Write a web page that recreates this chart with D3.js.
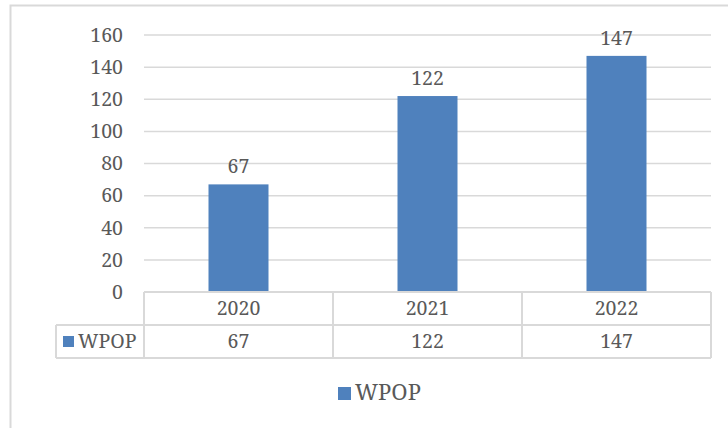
<!DOCTYPE html>
<html>
<head>
<meta charset="utf-8">
<script src="https://cdn.jsdelivr.net/npm/d3@7"></script>
<style>
	body { margin: 0; background: #fff; }
</style>
</head>
<body>
<svg id="chart" width="728" height="428"></svg>
<script>
'use strict';

var BAR_COLOR = "#4f81bd";
var LINE_COLOR = "#d9d9d9";
var TEXT_COLOR = "#595959";
var FONT = "\"Noto Serif\"";

var years = ["2020", "2021", "2022"];
var wpop = [67, 122, 147];
var seriesName = "WPOP";
var yTicks = [0, 20, 40, 60, 80, 100, 120, 140, 160];

var svg = d3.select("#chart");

// outer frame (only top and left visible)
svg.append("path")
	.attr("d", "M10.5,428V5.5H728")
	.attr("fill", "none")
	.attr("stroke", LINE_COLOR)
	.attr("stroke-width", 2);

var plot = {left: 144, right: 711, top: 35, bottom: 292};

var x = d3.scaleBand()
	.domain(years)
	.range([plot.left, plot.right])
	.paddingInner(0)
	.paddingOuter(0);

var y = d3.scaleLinear()
	.domain([0, 160])
	.range([plot.bottom, plot.top]);

function label(g, size) {
	return g.append("text")
		.style("fill", TEXT_COLOR)
		.style("font-family", FONT)
		.style("font-size", size + "px");
}

// gridlines
svg.append("g")
	.selectAll("line")
	.data(yTicks.slice(1))
	.enter().append("line")
		.attr("x1", plot.left)
		.attr("x2", plot.right)
		.attr("y1", function(d) { return y(d); })
		.attr("y2", function(d) { return y(d); })
		.attr("stroke", LINE_COLOR)
		.attr("stroke-width", 1.5);

// y tick labels
var yl = svg.append("g");
yTicks.forEach(function(d) {
	label(yl, 19.5)
		.attr("x", 123)
		.attr("y", y(d))
		.attr("dy", "0.35em")
		.attr("text-anchor", "end")
		.text(d);
});

// bars
var barW = 60;
svg.append("g")
	.selectAll("rect")
	.data(wpop)
	.enter().append("rect")
		.attr("x", function(d, i) { return x(years[i]) + x.bandwidth() / 2 - barW / 2; })
		.attr("y", function(d) { return y(d); })
		.attr("width", barW)
		.attr("height", function(d) { return y(0) - y(d); })
		.attr("fill", BAR_COLOR);

// data labels
var dl = svg.append("g");
wpop.forEach(function(d, i) {
	label(dl, 19.5)
		.attr("x", x(years[i]) + x.bandwidth() / 2)
		.attr("y", y(d) - 11)
		.attr("text-anchor", "middle")
		.text(d);
});

// data table
var rowH = 33;
var tableLeft = 56;
var table = svg.append("g")
	.attr("fill", "none")
	.attr("stroke", LINE_COLOR)
	.attr("stroke-width", 2);

table.append("line")
	.attr("x1", plot.left).attr("x2", plot.right)
	.attr("y1", plot.bottom).attr("y2", plot.bottom);
table.append("line")
	.attr("x1", tableLeft).attr("x2", plot.right)
	.attr("y1", plot.bottom + rowH).attr("y2", plot.bottom + rowH);
table.append("line")
	.attr("x1", tableLeft).attr("x2", plot.right)
	.attr("y1", plot.bottom + 2 * rowH).attr("y2", plot.bottom + 2 * rowH);
table.append("line")
	.attr("x1", tableLeft).attr("x2", tableLeft)
	.attr("y1", plot.bottom + rowH).attr("y2", plot.bottom + 2 * rowH);
table.selectAll("line.v")
	.data(years.concat(["end"]))
	.enter().append("line")
		.attr("x1", function(d) { return d === "end" ? plot.right : x(d); })
		.attr("x2", function(d) { return d === "end" ? plot.right : x(d); })
		.attr("y1", plot.bottom)
		.attr("y2", plot.bottom + 2 * rowH);

var tt = svg.append("g");
years.forEach(function(d, i) {
	label(tt, 19.5)
		.attr("x", x(d) + x.bandwidth() / 2)
		.attr("y", plot.bottom + rowH / 2)
		.attr("dy", "0.35em")
		.attr("text-anchor", "middle")
		.text(d);
	label(tt, 19.5)
		.attr("x", x(d) + x.bandwidth() / 2)
		.attr("y", plot.bottom + rowH * 1.5)
		.attr("dy", "0.35em")
		.attr("text-anchor", "middle")
		.text(wpop[i]);
});

svg.append("rect")
	.attr("x", 63).attr("y", plot.bottom + rowH * 1.5 - 5.5)
	.attr("width", 11).attr("height", 11)
	.attr("fill", BAR_COLOR);
label(svg, 19.5)
	.attr("x", 78)
	.attr("y", plot.bottom + rowH * 1.5)
	.attr("dy", "0.35em")
	.text(seriesName);

// legend
svg.append("rect")
	.attr("x", 338).attr("y", 387)
	.attr("width", 13).attr("height", 13)
	.attr("fill", BAR_COLOR);
label(svg, 22)
	.attr("x", 355)
	.attr("y", 400)
	.text(seriesName);
</script>
</body>
</html>
